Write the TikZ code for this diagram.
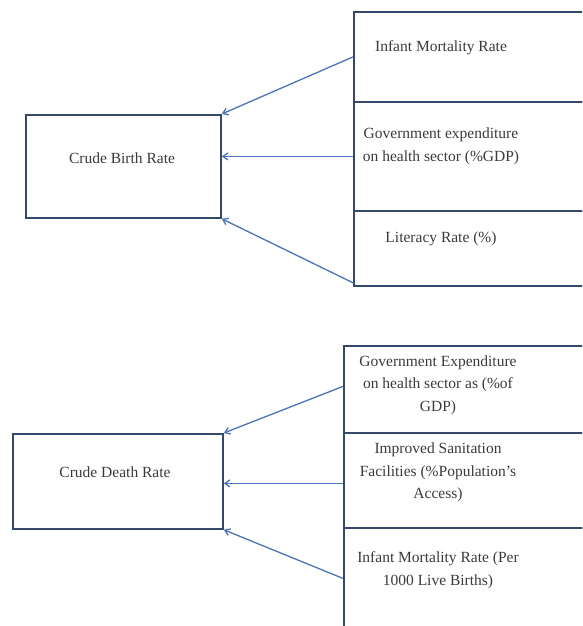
\documentclass[tikz,border=0pt]{standalone}
\usepackage{fontspec}
\setmainfont{Liberation Serif}
\usetikzlibrary{arrows.meta}
\definecolor{boxc}{HTML}{34496A}
\definecolor{arrc}{HTML}{4A74B4}
\definecolor{txtc}{HTML}{3A3A3A}
\begin{document}
\begin{tikzpicture}[x=1pt,y=-1pt,
  box/.style={draw=boxc, line width=1.8pt, inner sep=0pt, anchor=north west},
  lbl/.style={text=txtc, align=center, inner sep=0pt, font=\fontsize{15.5}{22.5}\selectfont},
  arr/.style={draw=arrc, line width=1.3pt, -{Straight Barb[length=5pt,width=7pt]}}]
\useasboundingbox (0,0) rectangle (582,626);
\clip (0,0) rectangle (582,626);
% top panel
\node[box, minimum width=195pt, minimum height=103pt] (cbr) at (25,114) {};
\node[lbl] (cbrt) at (122,158) {Crude Birth Rate};
\node[box, minimum width=267pt, minimum height=90pt] (imr) at (353,11) {};
\node[box, minimum width=267pt, minimum height=109pt] (gov) at (353,101) {};
\node[box, minimum width=267pt, minimum height=75pt] (lit) at (353,210) {};
\node[lbl] (imrt) at (441,48) {Infant Mortality Rate};
\node[lbl] (govt) at (441,146.5) {Government expenditure\\on health sector (\%GDP)};
\node[lbl] (litt) at (441,239) {Literacy Rate (\%)};
\draw[arr] (imr.west) -- (cbr.north east);
\draw[arr] (gov.west) -- (gov.west -| cbr.east);
\draw[arr] ([yshift=4pt]lit.south west) -- (cbr.south east);
% bottom panel
\node[box, minimum width=210pt, minimum height=95pt] (cdr) at (12,433) {};
\node[lbl] (cdrt) at (115,472) {Crude Death Rate};
\node[box, minimum width=277pt, minimum height=87pt] (gex) at (343,345) {};
\node[box, minimum width=277pt, minimum height=95pt] (imp) at (343,432) {};
\node[box, minimum width=277pt, minimum height=113pt] (imb) at (343,527) {};
\node[lbl] (gext) at (438,385) {Government Expenditure\\on health sector as (\%of\\GDP)};
\node[lbl] (impt) at (438,472.5) {Improved Sanitation\\Facilities (\%Population’s\\Access)};
\node[lbl] (imbt) at (438,570) {Infant Mortality Rate (Per\\1000 Live Births)};
\draw[arr] ([yshift=3pt]gex.west) -- (cdr.north east);
\draw[arr] ([yshift=-3pt]imp.west) -- ([yshift=-3pt]imp.west -| cdr.east);
\draw[arr] ([yshift=6pt]imb.west) -- (cdr.south east);
\end{tikzpicture}
\end{document}
